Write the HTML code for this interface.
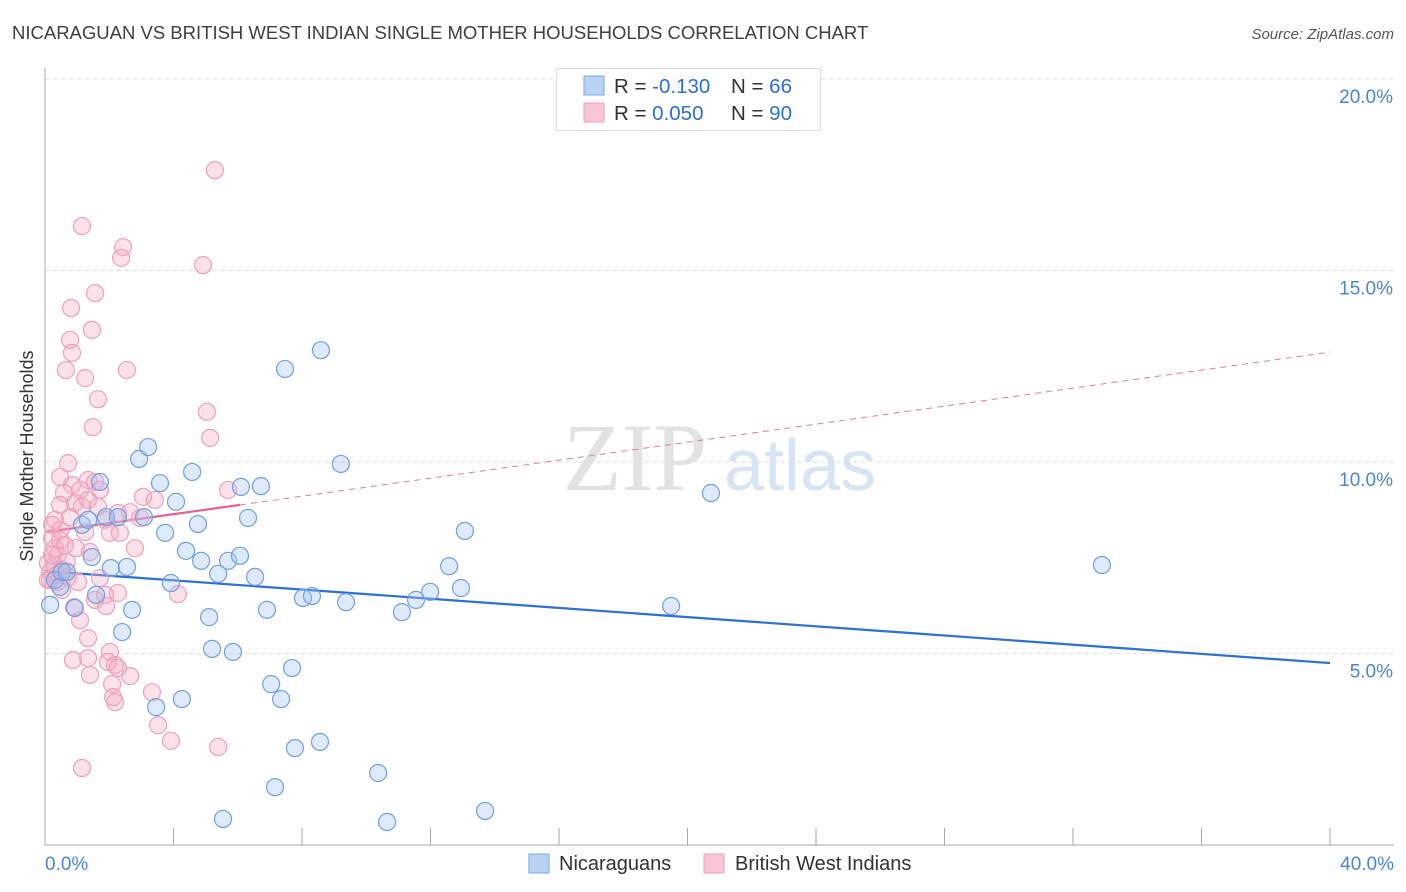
<!DOCTYPE html>
<html><head><meta charset="utf-8"><style>
body{margin:0;background:#fff;font-family:"Liberation Sans",sans-serif;}
#wrap{position:relative;width:1406px;height:892px;overflow:hidden;}
</style></head><body>
<div id="wrap">
<svg id="svg" width="1406" height="892" xmlns="http://www.w3.org/2000/svg">
<text x="12" y="39" font-size="18.5" fill="#3f3f3f">NICARAGUAN VS BRITISH WEST INDIAN SINGLE MOTHER HOUSEHOLDS CORRELATION CHART</text>
<text x="1394" y="39" font-size="15" fill="#555" font-style="italic" text-anchor="end">Source: ZipAtlas.com</text>
<text x="33" y="456" font-size="18" fill="#333" text-anchor="middle" transform="rotate(-90 33 456)">Single Mother Households</text>
<g>
<text x="635" y="490" font-size="96" fill="#e2e2e2" font-family="Liberation Serif" text-anchor="middle">ZIP</text>
<text x="800" y="490" font-size="72" fill="#d6e4f4" text-anchor="middle">atlas</text>
</g>
<g id="grid"></g><g id="axes"></g><g id="lines"></g><g id="pts"></g>
<g>
<rect x="556.5" y="68.5" width="264" height="62" fill="#fff" stroke="#ddd"/>
<rect x="584" y="76" width="20" height="19" fill="#b9d3f4" stroke="#7aaae6"/>
<rect x="584" y="103" width="20" height="19" fill="#f9c6d6" stroke="#f0a0bb"/>
<text x="614" y="93" font-size="20.5" fill="#333">R = <tspan fill="#2c6fd6">-0.130</tspan></text>
<text x="731" y="93" font-size="20.5" fill="#333">N = <tspan fill="#2c6fd6">66</tspan></text>
<text x="614" y="120" font-size="20.5" fill="#333">R = <tspan fill="#2c6fd6"> 0.050</tspan></text>
<text x="731" y="120" font-size="20.5" fill="#333">N = <tspan fill="#2c6fd6">90</tspan></text>
</g>
<g>
<rect x="529" y="854" width="20" height="19" fill="#b9d3f4" stroke="#7aaae6"/>
<text x="559" y="870" font-size="20" fill="#333">Nicaraguans</text>
<rect x="704" y="854" width="20" height="19" fill="#f9c6d6" stroke="#f0a0bb"/>
<text x="735" y="870" font-size="20" fill="#333">British West Indians</text>
</g>
</svg>
</div>
<script>
const xTicks=[0,4,8,12,16,20,24,28,32,36,40];
const yTicks=[5,10,15,20];
const blueX=[0.16,0.31,0.47,0.53,0.68,0.93,1.15,1.34,1.46,1.59,1.71,1.90,2.05,2.27,2.40,2.55,2.71,2.93,3.08,3.21,3.46,3.58,3.74,3.92,4.08,4.26,4.39,4.58,4.76,4.86,5.11,5.20,5.39,5.54,5.70,5.85,6.07,6.10,6.32,6.54,6.72,6.91,7.04,7.16,7.35,7.47,7.69,7.78,8.03,8.31,8.56,8.59,9.21,9.37,10.37,10.65,11.11,11.55,11.99,12.58,12.95,13.07,13.70,19.49,20.73,32.90];
const blueY=[6.27,6.92,6.74,7.13,7.13,6.19,8.36,8.49,7.52,6.53,9.48,8.56,7.23,8.56,5.56,7.26,6.14,10.08,8.56,10.39,3.60,9.45,8.15,6.84,8.96,3.81,7.68,9.74,8.38,7.42,5.95,5.12,7.08,0.68,7.42,5.04,7.55,9.35,8.54,7.00,9.37,6.14,4.20,1.51,3.81,12.43,4.62,2.53,6.45,6.50,2.69,12.92,9.95,6.34,1.88,0.60,6.08,6.40,6.61,7.28,6.71,8.20,0.89,6.24,9.19,7.31];
const pinkX=[5.29,1.15,2.43,2.37,4.92,1.56,0.81,1.46,0.78,0.84,0.65,2.55,1.25,1.65,5.04,1.49,5.14,0.72,0.47,1.34,0.84,1.56,1.09,0.59,3.05,3.42,5.70,0.47,0.93,1.15,1.34,1.65,0.78,0.31,2.27,1.87,0.47,1.25,2.02,2.33,0.22,0.47,0.31,0.96,1.40,0.22,0.40,0.09,0.31,0.68,0.53,0.16,0.37,0.09,0.72,1.71,1.03,0.53,4.14,2.27,1.56,0.90,1.90,1.09,1.34,2.02,0.87,1.34,1.96,2.18,2.27,1.40,2.65,2.09,3.33,2.12,2.18,3.52,3.92,5.39,1.15,0.16,0.40,0.62,1.87,2.65,2.80,1.71,2.96,0.22];
const pinkY=[17.62,16.16,15.61,15.33,15.14,14.41,14.02,13.45,13.19,12.85,12.40,12.40,12.19,11.64,11.31,10.91,10.63,9.97,9.61,9.53,9.40,9.48,9.27,9.19,9.09,9.01,9.27,8.88,8.93,8.83,9.01,8.83,8.56,8.49,8.67,8.49,8.22,8.17,8.15,8.15,8.02,7.96,7.75,7.75,7.65,7.57,7.57,7.36,7.31,7.39,7.18,7.13,7.05,6.92,7.00,6.97,6.87,6.66,6.55,6.58,6.40,6.21,6.24,5.87,5.40,5.04,4.83,4.88,4.78,4.70,4.62,4.44,4.41,4.20,3.99,3.86,3.73,3.13,2.72,2.56,2.01,6.92,6.87,7.83,6.53,8.69,7.75,9.27,8.54,8.36];
const blueTrend=[7.15,4.75];
const pinkTrend=[8.17,8.88,12.87];
const pinkSolidEnd=6.07;
const NS="http://www.w3.org/2000/svg";
const sx=v=>45+v*32.125, sy=v=>845-v*38.3;
function mk(tag,attrs,parent){const e=document.createElementNS(NS,tag);for(const k in attrs)e.setAttribute(k,attrs[k]);document.getElementById(parent).appendChild(e);return e;}
yTicks.forEach(t=>{
 const l=mk('line',{x1:45,x2:1394,y1:sy(t),y2:sy(t),stroke:'#ddd','stroke-dasharray':'4,4'},'grid');
 
 
 const tx=mk('text',{x:1393,y:sy(t)+24,'font-size':19,fill:'#4a86d8','text-anchor':'end'},'grid');
 tx.textContent=t.toFixed(1)+'%';
 
 
});
mk('line',{x1:45,x2:45,y1:68,y2:845,stroke:'#aaa'},'axes');
mk('line',{x1:45,x2:1394,y1:845,y2:845,stroke:'#aaa'},'axes');
xTicks.forEach(t=>{const l=mk('line',{x1:sx(t),x2:sx(t),y1:828,y2:845,stroke:'#aaa'},'axes');
 
 });
[[0,'start',45],[40,'end',1394]].forEach(([t,a,x])=>{const tx=mk('text',{x:x,y:870,'font-size':19,fill:'#4a86d8','text-anchor':a},'axes');tx.textContent=t.toFixed(1)+'%';
 
 });
function pts(X,Y,fill,stroke,name){X.forEach((x,i)=>{const c=mk('circle',{cx:sx(x),cy:sy(Y[i]),r:8.5,fill:fill,stroke:stroke,'stroke-width':1.2},'pts');
 
 });}
pts(pinkX,pinkY,'rgba(244,170,195,0.35)','#f0a0bb','point-british-west-indian');
pts(blueX,blueY,'rgba(160,196,240,0.35)','#6fa0e0','point-nicaraguan');
let b=mk('line',{x1:sx(0),y1:sy(blueTrend[0]),x2:sx(40),y2:sy(blueTrend[1]),stroke:'#2c6fd6','stroke-width':2.2},'lines');


let p1=mk('line',{x1:sx(pinkSolidEnd),y1:sy(pinkTrend[1]),x2:sx(40),y2:sy(pinkTrend[2]),stroke:'#e8789c','stroke-width':1,'stroke-dasharray':'6,5'},'lines');


let p2=mk('line',{x1:sx(0),y1:sy(pinkTrend[0]),x2:sx(pinkSolidEnd),y2:sy(pinkTrend[1]),stroke:'#e8608c','stroke-width':2.2},'lines');


</script>
</body></html>
